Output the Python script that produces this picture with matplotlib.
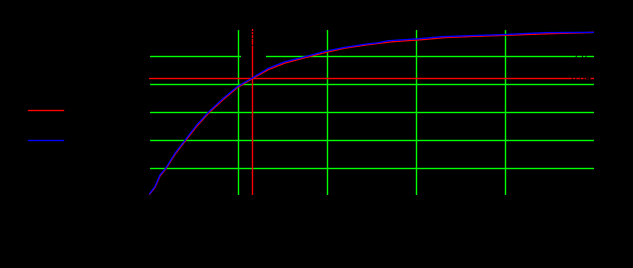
import matplotlib
matplotlib.use("Agg")
import matplotlib.pyplot as plt

x_blue = [0.008, 0.067, 0.124, 0.188, 0.292, 0.404, 0.536, 0.666, 0.835, 0.992,
          1.161, 1.340, 1.528, 1.753, 1.997, 2.202, 2.427, 2.576, 2.689, 3.045,
          3.289, 3.588, 3.944, 4.457, 5.011]
y_blue = [0.019, 0.069, 0.152, 0.200, 0.307, 0.400, 0.509, 0.600, 0.700, 0.783,
          0.845, 0.914, 0.961, 0.997, 1.038, 1.064, 1.086, 1.097, 1.111, 1.126,
          1.140, 1.147, 1.154, 1.169, 1.171]
x_red = [0.008, 0.067, 0.124, 0.188, 0.292, 0.404, 0.536, 0.666, 0.835, 0.992,
         1.161, 1.340, 1.528, 1.753, 1.997, 2.202, 2.427, 2.576, 2.730, 3.090,
         3.330, 3.640, 4.010, 4.520, 5.011]
y_red = [0.017, 0.064, 0.146, 0.195, 0.300, 0.393, 0.500, 0.592, 0.692, 0.776,
         0.840, 0.905, 0.952, 0.990, 1.030, 1.058, 1.080, 1.092, 1.104, 1.120,
         1.134, 1.142, 1.150, 1.162, 1.171]

grid_x = [1, 2, 3, 4]
grid_y = [0.2, 0.4, 0.6, 0.8, 1.0]
x_cut = 1.161
y_cut = 0.843

fig = plt.figure(figsize=(6.33, 2.68), dpi=100, facecolor="black")
ax = fig.add_axes([0.2354, 0.2724, 0.7030, 0.6194], facecolor="black")

for gy in grid_y:
    ax.axhline(gy, color="#00ff00", lw=1.0, zorder=1)
ax.text(1.175, 1.0, "med", color="black", fontsize=7, ha="center", va="center",
        zorder=1.5, bbox=dict(facecolor="black", edgecolor="none", pad=1.5))
for gx in grid_x:
    ax.axvline(gx, color="#00ff00", lw=1.0, zorder=2)

ax.axvline(x_cut, color="red", lw=1.0, zorder=3)
ax.axhline(y_cut, color="red", lw=1.0, zorder=3)
ax.text(x_cut, 1.13, "1.16", color="black", fontsize=6, rotation=90,
        ha="center", va="center", zorder=6)
ax.text(4.85, y_cut, "0.84", color="black", fontsize=7, ha="center", va="center", zorder=6)
ax.text(4.85, 1.0, "1.0", color="black", fontsize=7, ha="center", va="center", zorder=6)

ax.plot(x_red, y_red, color="red", lw=1.0, zorder=4, label="obs")
ax.plot(x_blue, y_blue, color="blue", lw=1.0, zorder=5, label="fit")

ax.set_xlim(0, 5)
ax.set_ylim(0.0093, 1.195)
ax.set_xlabel("x", color="black")
ax.set_ylabel("F(x)", color="black", labelpad=2)
ax.tick_params(colors="black")
for s in ax.spines.values():
    s.set_color("black")

fig.legend(loc="center left", bbox_to_anchor=(0.028, 0.53), frameon=False,
           handlelength=3.15, labelspacing=1.75, handletextpad=0.5,
           fontsize=8, labelcolor="black")

fig.savefig("out.png", dpi=100, facecolor="black")
